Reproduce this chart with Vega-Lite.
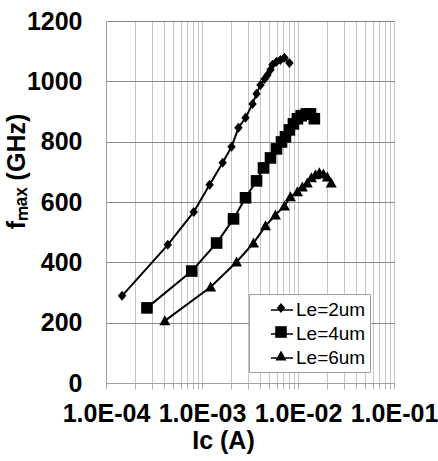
{
  "$schema": "https://vega.github.io/schema/vega-lite/v6.json",
  "autosize": {"type": "none"},
  "padding": {"left": 106, "top": 21, "right": 44, "bottom": 78},
  "width": 288,
  "height": 362,
  "background": "white",
  "config": {
    "view": {"stroke": "#a0a0a0", "strokeWidth": 1},
    "font": "Liberation Sans"
  },
  "data": {
    "values": [
      {"series": "Le=2um", "ic": 0.000147, "fmax": 289},
      {"series": "Le=2um", "ic": 0.00044, "fmax": 458},
      {"series": "Le=2um", "ic": 0.00082, "fmax": 567},
      {"series": "Le=2um", "ic": 0.0012, "fmax": 657},
      {"series": "Le=2um", "ic": 0.00164, "fmax": 730},
      {"series": "Le=2um", "ic": 0.00203, "fmax": 783},
      {"series": "Le=2um", "ic": 0.0024, "fmax": 846},
      {"series": "Le=2um", "ic": 0.00284, "fmax": 879},
      {"series": "Le=2um", "ic": 0.00336, "fmax": 925},
      {"series": "Le=2um", "ic": 0.0037, "fmax": 959},
      {"series": "Le=2um", "ic": 0.00407, "fmax": 988},
      {"series": "Le=2um", "ic": 0.00448, "fmax": 1008},
      {"series": "Le=2um", "ic": 0.00481, "fmax": 1021},
      {"series": "Le=2um", "ic": 0.00517, "fmax": 1038},
      {"series": "Le=2um", "ic": 0.00542, "fmax": 1055},
      {"series": "Le=2um", "ic": 0.00597, "fmax": 1065},
      {"series": "Le=2um", "ic": 0.00656, "fmax": 1071},
      {"series": "Le=2um", "ic": 0.00722, "fmax": 1078},
      {"series": "Le=2um", "ic": 0.00814, "fmax": 1061},
      {"series": "Le=4um", "ic": 0.000267, "fmax": 249},
      {"series": "Le=4um", "ic": 0.000782, "fmax": 371},
      {"series": "Le=4um", "ic": 0.00142, "fmax": 464},
      {"series": "Le=4um", "ic": 0.00213, "fmax": 544},
      {"series": "Le=4um", "ic": 0.00284, "fmax": 614},
      {"series": "Le=4um", "ic": 0.0037, "fmax": 670},
      {"series": "Le=4um", "ic": 0.00437, "fmax": 713},
      {"series": "Le=4um", "ic": 0.00517, "fmax": 746},
      {"series": "Le=4um", "ic": 0.00597, "fmax": 776},
      {"series": "Le=4um", "ic": 0.00673, "fmax": 799},
      {"series": "Le=4um", "ic": 0.0074, "fmax": 816},
      {"series": "Le=4um", "ic": 0.00814, "fmax": 839},
      {"series": "Le=4um", "ic": 0.00896, "fmax": 859},
      {"series": "Le=4um", "ic": 0.00986, "fmax": 876},
      {"series": "Le=4um", "ic": 0.0108, "fmax": 886},
      {"series": "Le=4um", "ic": 0.0122, "fmax": 892},
      {"series": "Le=4um", "ic": 0.0135, "fmax": 892},
      {"series": "Le=4um", "ic": 0.0148, "fmax": 876},
      {"series": "Le=6um", "ic": 0.00041, "fmax": 206},
      {"series": "Le=6um", "ic": 0.00123, "fmax": 318},
      {"series": "Le=6um", "ic": 0.00229, "fmax": 401},
      {"series": "Le=6um", "ic": 0.00344, "fmax": 464},
      {"series": "Le=6um", "ic": 0.00459, "fmax": 521},
      {"series": "Le=6um", "ic": 0.00582, "fmax": 557},
      {"series": "Le=6um", "ic": 0.00722, "fmax": 587},
      {"series": "Le=6um", "ic": 0.00833, "fmax": 617},
      {"series": "Le=6um", "ic": 0.00986, "fmax": 634},
      {"series": "Le=6um", "ic": 0.0111, "fmax": 650},
      {"series": "Le=6um", "ic": 0.0125, "fmax": 663},
      {"series": "Le=6um", "ic": 0.0138, "fmax": 680},
      {"series": "Le=6um", "ic": 0.0152, "fmax": 690},
      {"series": "Le=6um", "ic": 0.0167, "fmax": 697},
      {"series": "Le=6um", "ic": 0.0184, "fmax": 693},
      {"series": "Le=6um", "ic": 0.0202, "fmax": 683},
      {"series": "Le=6um", "ic": 0.0222, "fmax": 663}
    ]
  },
  "encoding": {
    "x": {
      "field": "ic",
      "type": "quantitative",
      "scale": {"type": "log", "domain": [0.0001, 0.1], "nice": false},
      "axis": {
        "values": [0.0001, 0.0002, 0.0003, 0.0004, 0.0005, 0.0006, 0.0007, 0.0008, 0.0009,
                   0.001, 0.002, 0.003, 0.004, 0.005, 0.006, 0.007, 0.008, 0.009,
                   0.01, 0.02, 0.03, 0.04, 0.05, 0.06, 0.07, 0.08, 0.09, 0.1],
        "labelExpr": "abs(log(datum.value)/LN10 - round(log(datum.value)/LN10)) < 0.001 ? '1.0E-0' + toString(-round(log(datum.value)/LN10)) : ''",
        "labelOverlap": false,
        "labelBound": false,
        "labelFlush": false,
        "labelFont": "Liberation Sans",
        "labelFontSize": 25,
        "labelFontWeight": "bold",
        "labelColor": "black",
        "labelPadding": 12,
        "tickSize": 6,
        "tickColor": "#b0b0b0",
        "domainColor": "#a0a0a0",
        "gridColor": "#c4c4c4",
        "gridWidth": 1,
        "title": "Iᴄ (A)",
        "titleFont": "Liberation Sans",
        "titleFontSize": 25,
        "titleFontWeight": "bold",
        "titleColor": "black",
        "titleX": 117,
        "titleY": 57,
        "titleBaseline": "middle"
      }
    },
    "y": {
      "field": "fmax",
      "type": "quantitative",
      "scale": {"domain": [0, 1200], "nice": false},
      "axis": {
        "values": [0, 200, 400, 600, 800, 1000, 1200],
        "format": "d",
        "ticks": false,
        "tickSize": 0,
        "labelPadding": 24,
        "labelFont": "Liberation Sans",
        "labelFontSize": 25,
        "labelFontWeight": "bold",
        "labelColor": "black",
        "domainColor": "#a0a0a0",
        "gridColor": "#8a8a8a",
        "gridWidth": 1,
        "title": "fₘₐₓ (GHz)",
        "titleFont": "Liberation Sans",
        "titleFontSize": 25,
        "titleFontWeight": "bold",
        "titleColor": "black",
        "titleX": -90,
        "titleY": 150,
        "titleBaseline": "middle"
      }
    }
  },
  "layer": [
    {
      "mark": {"type": "line", "strokeWidth": 2},
      "encoding": {
        "color": {
          "field": "series",
          "type": "nominal",
          "scale": {"range": ["black", "black", "black"]},
          "legend": {
            "title": null,
            "orient": "none",
            "legendX": 143,
            "legendY": 273,
            "zindex": 0,
            "padding": 4,
            "fillColor": "white",
            "strokeColor": "#a0a0a0",
            "symbolType": "stroke",
            "symbolSize": 484,
            "symbolOffset": 17,
            "symbolStrokeColor": "black",
            "symbolStrokeWidth": 1.5,
            "labelFont": "Liberation Sans",
            "labelFontSize": 19,
            "labelColor": "black",
            "labelOffset": 2,
            "labelExpr": "datum.label + '\u00a0\u00a0\u00a0\u00a0\u00a0\u00a0'",
            "rowPadding": 2
          }
        }
      }
    },
    {
      "mark": {"type": "point", "filled": true, "color": "black", "opacity": 1, "strokeWidth": 0, "size": 400},
      "encoding": {
        "shape": {
          "field": "series",
          "type": "nominal",
          "scale": {
            "domain": ["Le=2um", "Le=4um", "Le=6um"],
            "range": [
              "M0,-0.5L0.42,0L0,0.5L-0.42,0Z",
              "M-0.58,-0.58L0.58,-0.58L0.58,0.58L-0.58,0.58Z",
              "M0,-0.55L0.55,0.45L-0.55,0.45Z"
            ]
          },
          "legend": {
            "title": null,
            "orient": "none",
            "legendX": 143,
            "legendY": 273,
            "zindex": 1,
            "padding": 4,
            "symbolSize": 400,
            "symbolOffset": 18,
            "symbolFillColor": "black",
            "symbolStrokeWidth": 0,
            "labelFontSize": 19,
            "labelOpacity": 0,
            "labelExpr": "''",
            "rowPadding": 4
          }
        }
      }
    }
  ]
}
